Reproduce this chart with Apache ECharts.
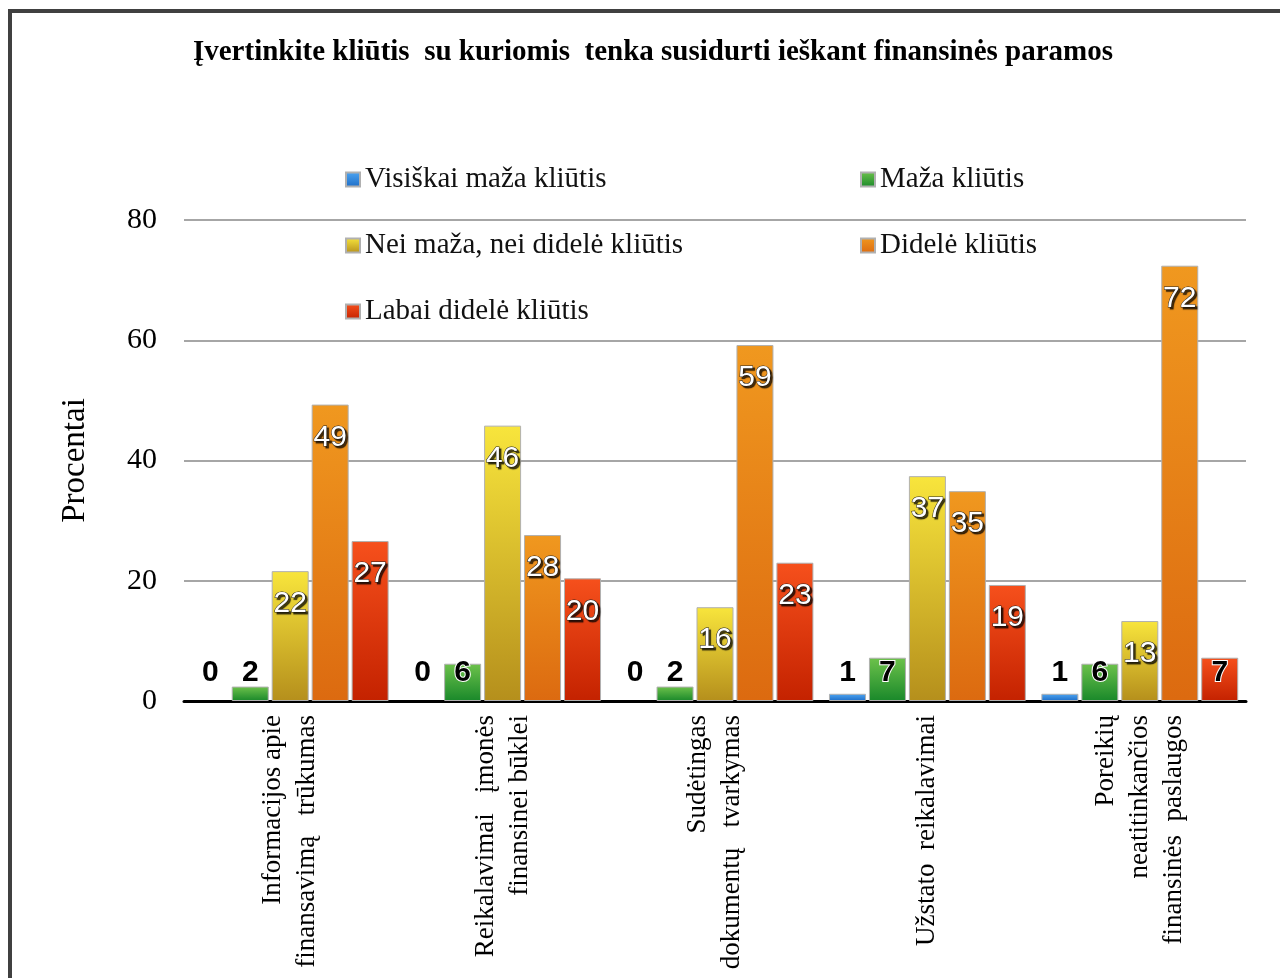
<!DOCTYPE html>
<html>
<head>
<meta charset="utf-8">
<script src="https://cdn.jsdelivr.net/npm/echarts@6/dist/echarts.min.js"></script>
<style>
  html, body { margin: 0; padding: 0; background: #fff; }
  #main { width: 1280px; height: 978px; }
  #frame {
    position: absolute; left: 8px; top: 9px; width: 1280px; height: 978px;
    border-left: 4px solid #404040; border-top: 4px solid #404040;
    pointer-events: none;
  }
</style>
</head>
<body>
<div id="main"></div>
<div id="frame"></div>
<script>
// kategorijos
const categories = [
  'Informacijos apie\nfinansavimą   trūkumas',
  'Reikalavimai   įmonės\nfinansinei būklei',
  'Sudėtingas\ndokumentų   tvarkymas',
  'Užstato  reikalavimai',
  'Poreikių\nneatitinkančios\nfinansinės  paslaugos'
];
const seriesNames = [
  'Visiškai maža kliūtis',
  'Maža kliūtis',
  'Nei maža, nei didelė kliūtis',
  'Didelė kliūtis',
  'Labai didelė kliūtis'
];
// procentai
const visiskaiMaza = [0, 0, 0, 1.2, 1.2];
const maza = [2.4, 6.2, 2.4, 7.2, 6.2];
const neiMazaNeiDidele = [21.6, 45.8, 15.6, 37.4, 13.3];
const didele = [49.3, 27.6, 59.2, 34.9, 72.4];
const labaiDidele = [26.6, 20.4, 23.0, 19.3, 7.2];
const yTicks = [0, 20, 40, 60, 80];

const values = [visiskaiMaza, maza, neiMazaNeiDidele, didele, labaiDidele];
const gradients = [
  ['#4fa6f2', '#1c6cc6'],
  ['#6dc24b', '#19882a'],
  ['#f8e53c', '#b58f1c'],
  ['#f0981f', '#dc6a10'],
  ['#f6501c', '#c42200']
];

function grad(c) {
  return new echarts.graphic.LinearGradient(0, 0, 0, 1, [
    { offset: 0, color: c[0] },
    { offset: 1, color: c[1] }
  ]);
}

const bigLabel = {
  show: true, position: 'insideTop', distance: 18,
  fontFamily: 'Liberation Sans', fontSize: 30, color: '#fff',
  textBorderColor: '#222', textBorderWidth: 1,
  textShadowColor: 'rgba(0,0,0,0.7)', textShadowOffsetX: 2, textShadowOffsetY: 2, textShadowBlur: 1,
  formatter: p => Math.round(p.value)
};
const smallLabel = {
  show: true, position: 'insideBottom', distance: 13,
  fontFamily: 'Liberation Sans', fontSize: 30, fontWeight: 'bold', color: '#000',
  textBorderColor: '#fff', textBorderWidth: 2,
  formatter: p => Math.round(p.value)
};

const series = values.map((arr, i) => ({
  name: seriesNames[i],
  type: 'bar',
  barWidth: 37,
  barGap: '8%',
  itemStyle: { color: grad(gradients[i]), borderColor: '#b0b0b0', borderWidth: 1 },
  data: arr.map(v => ({
    value: v,
    label: v >= 10 ? bigLabel : smallLabel,
    itemStyle: v === 0 ? { borderWidth: 0 } : undefined
  }))
}));

const legendText = { fontFamily: 'Liberation Serif', fontSize: 29, color: '#111' };

const chart = echarts.init(document.getElementById('main'));
chart.setOption({
  backgroundColor: '#fff',
  animation: false,
  title: {
    text: 'Įvertinkite kliūtis  su kuriomis  tenka susidurti ieškant finansinės paramos',
    left: 648, textAlign: 'center', top: 33,
    textStyle: { fontFamily: 'Liberation Serif', fontWeight: 'bold', fontSize: 29, color: '#000' }
  },
  legend: [
    {
      data: [seriesNames[0], seriesNames[2], seriesNames[4]],
      orient: 'vertical', left: 340, top: 160, itemGap: 37,
      itemWidth: 14, itemHeight: 14, icon: 'rect', textStyle: legendText
    },
    {
      data: [seriesNames[1], seriesNames[3]],
      orient: 'vertical', left: 855, top: 160, itemGap: 37,
      itemWidth: 14, itemHeight: 14, icon: 'rect', textStyle: legendText
    }
  ],
  grid: { left: 184, right: 34, top: 220, bottom: 277, containLabel: false },
  xAxis: {
    type: 'category',
    data: categories,
    axisLine: { lineStyle: { color: '#000', width: 3 } },
    axisTick: { show: false },
    axisLabel: {
      rotate: 90, interval: 0, margin: 14,
      fontFamily: 'Liberation Serif', fontSize: 27, lineHeight: 34, color: '#000'
    }
  },
  yAxis: {
    type: 'value',
    min: yTicks[0], max: yTicks[yTicks.length - 1], interval: 20,
    name: 'Procentai', nameLocation: 'middle', nameGap: 92,
    nameTextStyle: { fontFamily: 'Liberation Serif', fontSize: 33, color: '#000' },
    axisLine: { show: false },
    axisTick: { show: false },
    axisLabel: { fontFamily: 'Liberation Serif', fontSize: 30, color: '#000', margin: 27 },
    splitLine: { lineStyle: { color: '#a6a6a6', width: 2 } }
  },
  series: series
});
</script>
</body>
</html>
